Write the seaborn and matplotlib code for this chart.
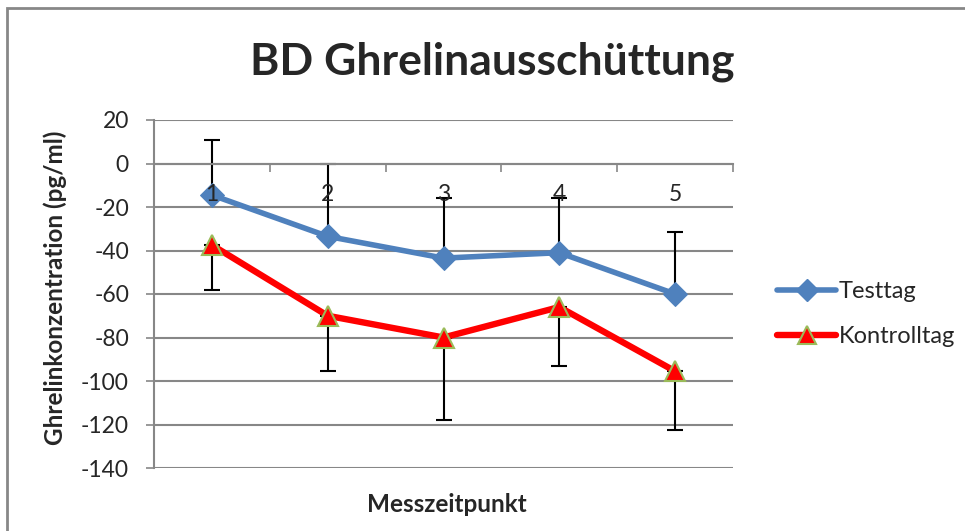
import numpy as np
import pandas as pd
import matplotlib
matplotlib.use("Agg")
import matplotlib.pyplot as plt
import seaborn as sns
from matplotlib.patches import Rectangle
from matplotlib.lines import Line2D

# ─── DATA ─────────────────────────────────────────────────────────────────────
zeitpunkte = [1, 2, 3, 4, 5]
testtag = [-14.5, -33.5, -43.5, -41, -60]
testtag_err = [25.5, 33.5, 27.5, 25, 28.5]          # upper error only
kontrolltag = [-37.5, -70, -80, -66, -95.5]
kontrolltag_err = [20.5, 25.5, 38, 27, 27]          # lower error only
yticks = [20, 0, -20, -40, -60, -80, -100, -120, -140]

df = pd.DataFrame({
    'Messzeitpunkt': zeitpunkte * 2,
    'Wert': testtag + kontrolltag,
    'Tag': ['Testtag'] * 5 + ['Kontrolltag'] * 5,
})

# ─── STYLE ────────────────────────────────────────────────────────────────────
sns.set_style('white')
plt.rcParams['font.family'] = ['Lato', 'DejaVu Sans']
GRID = '#878787'
BLUE = '#4F81BD'
RED = '#FF0000'
GREEN = '#9BBB59'

fig = plt.figure(figsize=(9.65, 5.31), dpi=100)
W, H = 965, 531
ax = fig.add_axes([154 / W, (H - 468) / H, (733 - 154) / W, (468 - 120) / H])

# outer chart frame
fig.patches.append(Rectangle((7 / W, -0.05), 1.2, (H - 8) / H + 0.05,
                             transform=fig.transFigure, fill=False,
                             edgecolor=GRID, lw=2, zorder=0))

# ─── LINES ────────────────────────────────────────────────────────────────────
sns.lineplot(data=df, x='Messzeitpunkt', y='Wert', hue='Tag', style='Tag',
             palette={'Testtag': BLUE, 'Kontrolltag': RED},
             markers={'Testtag': 'D', 'Kontrolltag': '^'},
             dashes=False, ax=ax, legend=False, zorder=3)
for line in ax.lines:
    if line.get_color() == BLUE:
        line.set_linewidth(4)
        line.set_markersize(12.5)
        line.set_markeredgecolor(BLUE)
    else:
        line.set_linewidth(4.6)
        line.set_markersize(14)
        line.set_markeredgecolor(GREEN)
        line.set_markeredgewidth(1.5)

# error bars (one-sided like in Excel)
ax.errorbar(zeitpunkte, testtag, yerr=[np.zeros(5), testtag_err], fmt='none',
            ecolor='black', elinewidth=1.5, capsize=6, capthick=1.5, zorder=2)
ax.errorbar(zeitpunkte, kontrolltag, yerr=[kontrolltag_err, np.zeros(5)], fmt='none',
            ecolor='black', elinewidth=1.5, capsize=6, capthick=1.5, zorder=2)

# ─── AXES ─────────────────────────────────────────────────────────────────────
ax.set_xlim(0.5, 5.5)
ax.set_ylim(-140, 20)
ax.set_yticks(yticks)
ax.set_yticklabels([str(v) for v in yticks], fontsize=16.5)
ax.yaxis.grid(True, color=GRID, lw=1.5)
ax.set_axisbelow(True)
ax.tick_params(axis='y', which='major', length=6, width=1.2, color=GRID,
               left=True, pad=12)

for s in ['top', 'right']:
    ax.spines[s].set_visible(False)
ax.spines['left'].set_color(GRID)
ax.spines['left'].set_linewidth(1.5)
ax.spines['bottom'].set_position(('data', 0))
ax.spines['bottom'].set_color(GRID)
ax.spines['bottom'].set_linewidth(1.5)

ax.set_xticks([0.5, 1.5, 2.5, 3.5, 4.5, 5.5])
ax.set_xticklabels([])
ax.tick_params(axis='x', which='major', length=6, width=1.2, color=GRID,
               direction='out', bottom=True)

# category labels sit under the axis at y=0 and are drawn above the series
for z in zeitpunkte:
    ax.annotate(str(z), xy=(z, 0), xytext=(0, -15), textcoords='offset points',
                ha='center', va='top', fontsize=16.5, zorder=6)

ax.set_xlabel('')
ax.set_ylabel('')
fig.text(55 / W, 1 - 288 / H, 'Ghrelinkonzentration (pg/ml)', rotation=90,
         ha='center', va='center', fontsize=17.5, fontweight='bold')
fig.text(447 / W, 1 - 505 / H, 'Messzeitpunkt', ha='center', va='center',
         fontsize=17.5, fontweight='bold')
fig.text(492 / W, 1 - 62 / H, 'BD Ghrelinausschüttung', ha='center', va='center',
         fontsize=32, fontweight='bold')

# ─── LEGEND ───────────────────────────────────────────────────────────────────
handles = [
    Line2D([], [], color=BLUE, lw=4, marker='D', markersize=11,
           markeredgecolor=BLUE),
    Line2D([], [], color=RED, lw=4.6, marker='^', markersize=13,
           markeredgecolor=GREEN, markeredgewidth=1.5),
]
fig.legend(handles, ['Testtag', 'Kontrolltag'], loc='center left',
           bbox_to_anchor=(756 / W, 1 - 314 / H), frameon=False, fontsize=17,
           handlelength=2.5, handletextpad=0.1, labelspacing=1.0)

fig.savefig('out.png', dpi=100)
